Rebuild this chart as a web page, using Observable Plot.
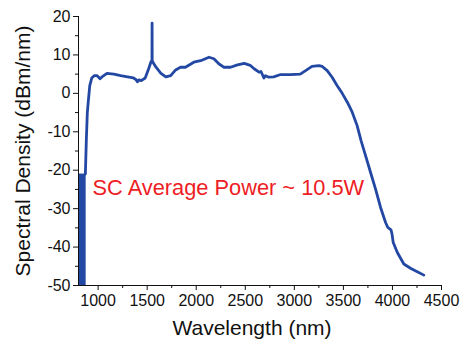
<!DOCTYPE html>
<html><head><meta charset="utf-8">
<script src="https://cdn.jsdelivr.net/npm/d3@7"></script>
<script src="https://cdn.jsdelivr.net/npm/@observablehq/plot@0.6"></script>
<style>
html,body{margin:0;padding:0;background:#fff}
#chart svg{display:block}
</style>
</head><body><div id="chart"></div>
<script>
// Spectrum trace (nm, dBm/nm)
const wavelength = [870, 880, 890, 900, 915, 935, 960, 990, 1020, 1050, 1090, 1160, 1230, 1300, 1360, 1385, 1400, 1415, 1440, 1480, 1515, 1540, 1549, 1550, 1551, 1560, 1590, 1640, 1690, 1740, 1790, 1840, 1890, 1975, 2045, 2130, 2180, 2230, 2280, 2350, 2420, 2490, 2550, 2590, 2640, 2660, 2690, 2705, 2740, 2790, 2860, 2960, 3060, 3115, 3180, 3250, 3285, 3335, 3385, 3437, 3488, 3540, 3590, 3640, 3680, 3726, 3777, 3828, 3879, 3930, 3953, 3985, 3995, 4008, 4050, 4116, 4184, 4253, 4320];
const density = [-21, -12, -5, -2, 2, 4, 4.6, 4.6, 3.8, 4.5, 5.2, 5.0, 4.6, 4.3, 4.0, 3.6, 3.0, 3.5, 3.3, 4.0, 6.4, 8.3, 8.5, 18.3, 8.5, 8.0, 6.8, 5.2, 4.3, 4.6, 6.1, 6.8, 6.8, 8.1, 8.5, 9.4, 9.0, 7.7, 6.8, 6.8, 7.4, 7.8, 7.3, 6.4, 5.5, 5.7, 4.0, 4.6, 4.2, 4.3, 4.9, 4.9, 5.0, 5.9, 7.0, 7.2, 7.0, 5.9, 4.2, 2.0, 0, -2.3, -4.9, -8.4, -12.3, -16.2, -20.6, -24.9, -29.7, -33.6, -34.9, -35.5, -36.5, -38.8, -41.4, -44.4, -45.5, -46.4, -47.3];
// Noise-floor band below ~880 nm
const bandStart = [800];
const bandEnd = [878];
const bandLow = [-50];
const bandHigh = [-21];
// Axes
const xTicks = [1000, 1500, 2000, 2500, 3000, 3500, 4000, 4500];
const xMinorTicks = [1250, 1750, 2250, 2750, 3250, 3750, 4250];
const yTicks = [-50, -40, -30, -20, -10, 0, 10, 20];
const yMinorTicks = [-45, -35, -25, -15, -5, 5, 15];
const xTitle = ["Wavelength (nm)"];
const yTitle = ["Spectral Density (dBm/nm)"];
const note = ["SC Average Power ~ 10.5W"];

const trace = wavelength.map((w, i) => ({w, d: density[i]}));
const band = bandStart.map((s, i) => ({x1: s, x2: bandEnd[i], y1: bandLow[i], y2: bandHigh[i]}));
const blue = "#2348a3";

const chart = Plot.plot({
  width: 465,
  height: 339,
  marginLeft: 78,
  marginRight: 24,
  marginTop: 16,
  marginBottom: 54,
  style: {fontFamily: "'Liberation Sans', Arial, Helvetica, sans-serif", fontSize: "16px", color: "#111", background: "#fff"},
  x: {domain: [800, 4500]},
  y: {domain: [-50, 20]},
  marks: [
    Plot.rect(band, {x1: "x1", x2: "x2", y1: "y1", y2: "y2", fill: blue}),
    Plot.line(trace, {x: "w", y: "d", stroke: blue, strokeWidth: 2.8, strokeLinejoin: "round", strokeLinecap: "round"}),
    Plot.axisX({ticks: xTicks, tickSize: 5, tickPadding: 4, fontSize: 16, tickFormat: d => String(d), label: null}),
    Plot.axisX({ticks: xMinorTicks, tickSize: 3, tickFormat: () => "", label: null}),
    Plot.axisY({ticks: yTicks, tickSize: 5, tickPadding: 3, fontSize: 16, tickFormat: d => String(d), label: null}),
    Plot.axisY({ticks: yMinorTicks, tickSize: 3, tickFormat: () => "", label: null}),
    Plot.ruleX([800], {stroke: "#111", strokeWidth: 1}),
    Plot.ruleY([-50], {stroke: "#111", strokeWidth: 1}),
    Plot.text(note, {x: 943, y: -24.6, text: d => d, textAnchor: "start", fill: "#ee1c25", fontSize: 21.8}),
    Plot.text(xTitle, {frameAnchor: "bottom", dy: 42.5, dx: -8, text: d => d, textAnchor: "middle", lineAnchor: "middle", fontSize: 21, fill: "#111"}),
    Plot.text(yTitle, {frameAnchor: "left", dx: -55, rotate: -90, text: d => d, textAnchor: "middle", lineAnchor: "middle", fontSize: 21, fill: "#111"})
  ]
});
document.getElementById("chart").appendChild(chart);
</script>
</body></html>
